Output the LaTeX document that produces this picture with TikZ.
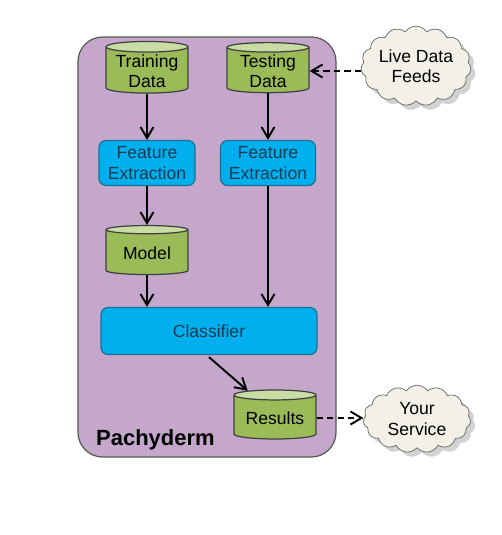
\documentclass[tikz,border=0pt]{standalone}
\usepackage{fontspec}
\setmainfont{Liberation Sans}
\usetikzlibrary{shapes.geometric,shapes.symbols,arrows.meta,shadows}

\definecolor{pachpurple}{HTML}{C4A7CA}
\definecolor{cylgreen}{HTML}{9BBB59}
\definecolor{cyltop}{HTML}{C9DCA3}
\definecolor{boxblue}{HTML}{00B0EE}
\definecolor{boxedge}{HTML}{1E6F96}
\definecolor{boxtext}{HTML}{1B3A50}
\definecolor{cloudfill}{HTML}{F3F1E7}

\tikzset{
  datastore/.style={cylinder, shape border rotate=90, aspect=0.16,
    draw=black!75, line width=0.7pt, cylinder uses custom fill,
    cylinder body fill=cylgreen, cylinder end fill=cyltop,
    minimum width=1.64cm, minimum height=0.98cm, inner sep=1pt,
    align=center, font=\fontsize{10}{11.5}\selectfont},
  procbox/.style={draw=boxedge, fill=boxblue, rounded corners=4pt,
    line width=0.7pt, align=center, text=boxtext,
    font=\fontsize{10}{11.5}\selectfont},
  extcloud/.style={cloud, cloud puffs=15, cloud puff arc=110, aspect=1.5,
    draw=black!60, fill=cloudfill, drop shadow={opacity=0.35},
    align=center, inner sep=0pt, minimum width=2.15cm, minimum height=1.35cm,
    font=\fontsize{10}{11.5}\selectfont},
  flow/.style={-{Straight Barb[length=2.2mm,width=2.6mm]}, line width=1.1pt},
  feed/.style={flow, dashed, dash pattern=on 3.5pt off 2.5pt}
}

\begin{document}
\begin{tikzpicture}[x=0.02cm, y=-0.02cm]
    \useasboundingbox[fill=white] (0,0) rectangle (502,535);
    % container
    \draw[fill=pachpurple, draw=black!65, line width=0.7pt, rounded corners=14pt]
        (78,37) rectangle (336,457);
    \node[anchor=west, font=\fontsize{12.5}{14}\selectfont\bfseries] (pach) at (90,440) {Pachyderm};

    % data stores
    \node[datastore] (train) at (147,71) {Training\\Data};
    \node[datastore] (test) at (268,71) {Testing\\Data};
    \node[datastore] (model) at (147,253) {Model};
    \node[datastore] (results) at (275,418) {Results};

    % processing
    \node[procbox, minimum width=1.92cm, minimum height=0.9cm] (feat1) at (147,163) {Feature\\Extraction};
    \node[procbox, minimum width=1.9cm, minimum height=0.9cm] (feat2) at (268,163) {Feature\\Extraction};
    \node[procbox, minimum width=4.32cm, minimum height=0.94cm] (classif) at (209,331) {Classifier};

    % outside world
    \node[extcloud] (live) at (416,66) {Live Data\\Feeds};
    \node[extcloud] (service) at (417,419) {Your\\Service};

    % connectors
    \draw[flow] (train) -- (feat1);
    \draw[flow] (test) -- (feat2);
    \draw[flow] (feat1) -- (model);
    \draw[flow] (model) -- (model |- classif.north);
    \draw[flow] (feat2) -- (feat2 |- classif.north);
    \draw[flow] (classif.south) ++(0,2) -- (results.north west);
    \draw[feed] (test.east -| live.west) -- (test.east);
    \draw[feed] (results.east) -- (results.east -| service.west);
\end{tikzpicture}
\end{document}
